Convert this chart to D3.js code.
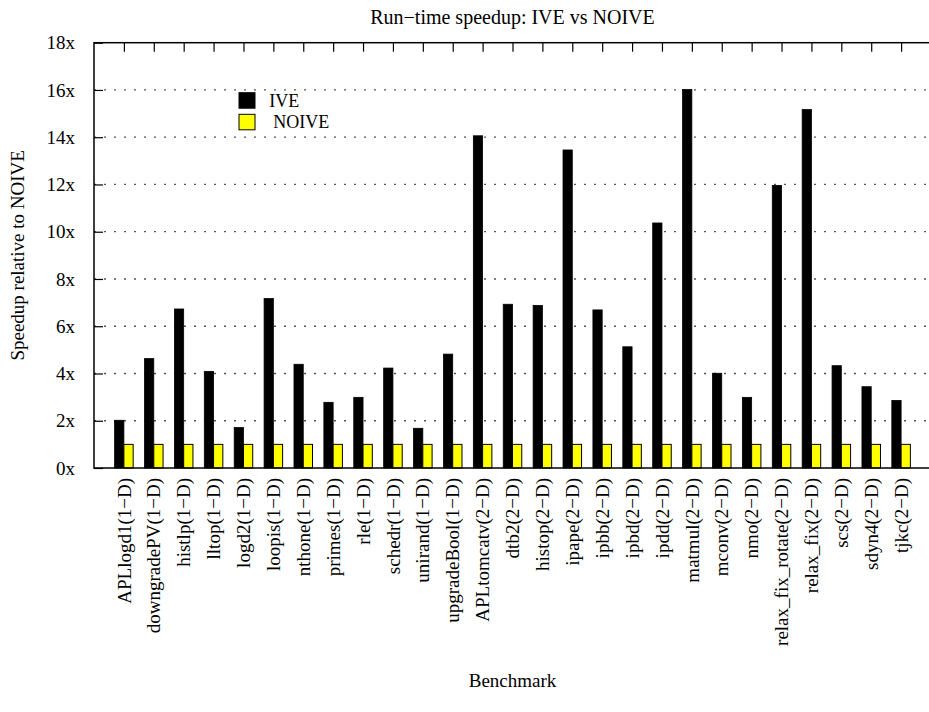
<!DOCTYPE html>
<html>
<head>
<meta charset="utf-8">
<script src="https://cdn.jsdelivr.net/npm/d3@7"></script>
<style>
  html, body { margin: 0; padding: 0; background: #fff; }
  svg { display: block; font-family: "Liberation Serif", "Times New Roman", serif; }
</style>
</head>
<body>
<svg id="chart" width="929" height="712"></svg>
<script>
// Benchmarks (x categories)
const categories = [
  "APLlogd1(1\u2212D)", "downgradePV(1\u2212D)", "histlp(1\u2212D)", "lltop(1\u2212D)",
  "logd2(1\u2212D)", "loopis(1\u2212D)", "nthone(1\u2212D)", "primes(1\u2212D)",
  "rle(1\u2212D)", "schedr(1\u2212D)", "unirand(1\u2212D)", "upgradeBool(1\u2212D)",
  "APLtomcatv(2\u2212D)", "dtb2(2\u2212D)", "histop(2\u2212D)", "ipape(2\u2212D)",
  "ipbb(2\u2212D)", "ipbd(2\u2212D)", "ipdd(2\u2212D)", "matmul(2\u2212D)",
  "mconv(2\u2212D)", "nmo(2\u2212D)", "relax_fix_rotate(2\u2212D)", "relax_fix(2\u2212D)",
  "scs(2\u2212D)", "sdyn4(2\u2212D)", "tjkc(2\u2212D)"
];

// Speedup relative to NOIVE
const iveValues = [
  2.02, 4.63, 6.73, 4.09, 1.71, 7.17, 4.39, 2.78, 2.99, 4.23, 1.68, 4.82,
  14.06, 6.93, 6.88, 13.46, 6.69, 5.13, 10.37, 16.02, 4.01, 2.99, 11.96, 15.17,
  4.33, 3.44, 2.86
];
const noiveValues = categories.map(() => 1.0);

const seriesNames = ["IVE", "NOIVE"];
const seriesColors = ["#000000", "#ffff00"];

const yTicks = [0, 2, 4, 6, 8, 10, 12, 14, 16, 18];
const yTickLabels = ["0x", "2x", "4x", "6x", "8x", "10x", "12x", "14x", "16x", "18x"];

const title = "Run\u2212time speedup: IVE vs NOIVE";
const xTitle = "Benchmark";
const yTitle = "Speedup relative to NOIVE";

// Layout
const plot = { left: 94, right: 931, top: 42.7, bottom: 468 };
const svg = d3.select("#chart");

const x = d3.scalePoint()
  .domain(categories)
  .range([plot.left, plot.right])
  .padding(1);

const y = d3.scaleLinear()
  .domain([0, 18])
  .range([plot.bottom, plot.top]);

const barW = x.step() * 0.31;

// Dotted horizontal grid
svg.append("g")
  .selectAll("line")
  .data(yTicks.filter(d => d > 0 && d < 18))
  .join("line")
  .attr("x1", plot.left)
  .attr("x2", plot.right)
  .attr("y1", d => y(d))
  .attr("y2", d => y(d))
  .attr("stroke", "#555")
  .attr("stroke-width", 1.3)
  .attr("stroke-dasharray", "2,8");

// Left axis ticks pointing inward, with labels
const yAxis = d3.axisLeft(y)
  .tickValues(yTicks)
  .tickFormat((d, i) => yTickLabels[i])
  .tickSize(-9)
  .tickPadding(19);
const yAxisG = svg.append("g")
  .attr("transform", `translate(${plot.left},0)`)
  .call(yAxis);
yAxisG.select(".domain").remove();
yAxisG.selectAll(".tick line").attr("stroke", "#000").attr("stroke-width", 1.2);
yAxisG.selectAll(".tick text")
  .attr("font-family", "Liberation Serif, serif")
  .attr("font-size", 19)
  .attr("fill", "#000");

// Top ticks at category positions, pointing inward
const xTopAxis = d3.axisTop(x).tickSize(-9).tickFormat("");
const xTopG = svg.append("g")
  .attr("transform", `translate(0,${plot.top})`)
  .call(xTopAxis);
xTopG.select(".domain").remove();
xTopG.selectAll(".tick line").attr("stroke", "#000").attr("stroke-width", 1.2);

// Bars: IVE (black) left of the category position, NOIVE (yellow) right of it
const groups = svg.append("g")
  .selectAll("g")
  .data(categories.map((c, i) => ({ c, ive: iveValues[i], noive: noiveValues[i] })))
  .join("g");

groups.append("rect")
  .attr("x", d => x(d.c) - barW)
  .attr("y", d => y(d.ive))
  .attr("width", barW)
  .attr("height", d => y(0) - y(d.ive))
  .attr("fill", seriesColors[0])
  .attr("stroke", "#000")
  .attr("stroke-width", 0.8);

groups.append("rect")
  .attr("x", d => x(d.c))
  .attr("y", d => y(d.noive))
  .attr("width", barW)
  .attr("height", d => y(0) - y(d.noive))
  .attr("fill", seriesColors[1])
  .attr("stroke", "#000")
  .attr("stroke-width", 1);

// Plot frame
svg.append("rect")
  .attr("x", plot.left)
  .attr("y", plot.top)
  .attr("width", plot.right - plot.left)
  .attr("height", plot.bottom - plot.top)
  .attr("fill", "none")
  .attr("stroke", "#000")
  .attr("stroke-width", 1.5);

// Rotated category labels
svg.append("g")
  .selectAll("text")
  .data(categories)
  .join("text")
  .attr("transform", d => `translate(${x(d)},${plot.bottom + 10}) rotate(-90)`)
  .attr("text-anchor", "end")
  .attr("dy", "0.35em")
  .attr("font-size", 19)
  .attr("fill", "#000")
  .text(d => d);

// Legend
const legend = svg.append("g");
const legendRows = [
  { name: seriesNames[0], color: seriesColors[0], y: 92.7, tx: 269.3 },
  { name: seriesNames[1], color: seriesColors[1], y: 114.3, tx: 273.3 }
];
legendRows.forEach(r => {
  legend.append("rect")
    .attr("x", 239).attr("y", r.y)
    .attr("width", 16).attr("height", 15.5)
    .attr("fill", r.color)
    .attr("stroke", "#000").attr("stroke-width", 1);
  legend.append("text")
    .attr("x", r.tx).attr("y", r.y + 14)
    .attr("font-size", 18)
    .attr("fill", "#000")
    .text(r.name);
});

// Titles
svg.append("text")
  .attr("x", (plot.left + plot.right) / 2)
  .attr("y", 24)
  .attr("text-anchor", "middle")
  .attr("font-size", 20)
  .attr("fill", "#000")
  .text(title);

svg.append("text")
  .attr("x", (plot.left + plot.right) / 2)
  .attr("y", 687)
  .attr("text-anchor", "middle")
  .attr("font-size", 19)
  .attr("fill", "#000")
  .text(xTitle);

svg.append("text")
  .attr("transform", `translate(24,${(plot.top + plot.bottom) / 2}) rotate(-90)`)
  .attr("text-anchor", "middle")
  .attr("font-size", 19)
  .attr("fill", "#000")
  .text(yTitle);
</script>
</body>
</html>
